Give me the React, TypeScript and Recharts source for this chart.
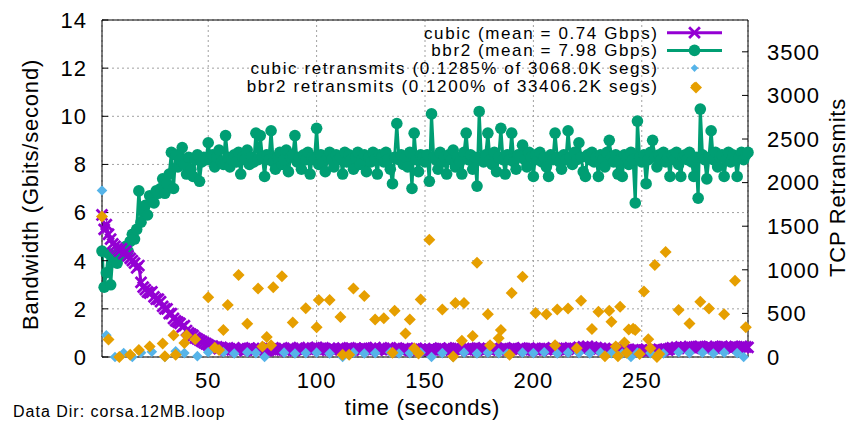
import { ComposedChart, Line, Scatter, XAxis, YAxis, CartesianGrid, ReferenceLine, Legend } from 'recharts';

const FONT = '"Liberation Sans", Arial, Helvetica, sans-serif';
const CUBIC_COLOR = '#9400d3';
const BBR2_COLOR = '#009e73';
const CUBIC_RT_COLOR = '#56b4e9';
const BBR2_RT_COLOR = '#e69f00';

// one sample per second, first sample at t = 1
const cubicGbps = [
  5.9, 5.3, 5.5, 5.1, 4.9, 4.7, 4.6, 4.5, 4.4, 4.5,
  4.3, 4.4, 4.2, 4.1, 4.0, 3.9, 3.7, 3.8, 3.1, 2.9,
  2.8, 2.7, 2.65, 2.7, 2.5, 2.4, 2.4, 2.3, 2.1, 2.0,
  2.0, 1.8, 1.8, 1.6, 1.5, 1.45, 1.4, 1.25, 1.3, 1.1,
  1.0, 0.95, 0.9, 0.8, 0.75, 0.7, 0.65, 0.6, 0.55, 0.5,
  0.45, 0.45, 0.4, 0.42, 0.35, 0.4, 0.35, 0.3, 0.38, 0.32,
  0.3, 0.36, 0.28, 0.34, 0.3, 0.38, 0.27, 0.33, 0.36, 0.29,
  0.34, 0.3, 0.37, 0.28, 0.35, 0.31, 0.26, 0.36, 0.32, 0.3,
  0.35, 0.29, 0.33, 0.38, 0.3, 0.27, 0.35, 0.32, 0.36, 0.3,
  0.34, 0.39, 0.31, 0.28, 0.36, 0.33, 0.3, 0.37, 0.32, 0.4,
  0.35, 0.3, 0.38, 0.33, 0.29, 0.36, 0.31, 0.34, 0.28, 0.35,
  0.32, 0.37, 0.3, 0.34, 0.38, 0.29, 0.33, 0.36, 0.31, 0.35,
  0.3, 0.37, 0.33, 0.28, 0.36, 0.32, 0.39, 0.3, 0.34, 0.31,
  0.36, 0.29, 0.35, 0.38, 0.32, 0.3, 0.37, 0.33, 0.28, 0.35,
  0.31, 0.34, 0.3, 0.27, 0.33, 0.36, 0.29, 0.32, 0.26, 0.3,
  0.28, 0.33, 0.3, 0.35, 0.29, 0.32, 0.37, 0.3, 0.34, 0.31,
  0.36, 0.3, 0.33, 0.38, 0.31, 0.35, 0.29, 0.34, 0.32, 0.37,
  0.3, 0.35, 0.33, 0.29, 0.36, 0.32, 0.38, 0.31, 0.34, 0.3,
  0.35, 0.32, 0.37, 0.3, 0.34, 0.29, 0.36, 0.33, 0.31, 0.35,
  0.38, 0.3, 0.34, 0.32, 0.36, 0.29, 0.33, 0.37, 0.31, 0.35,
  0.3, 0.34, 0.28, 0.33, 0.36, 0.31, 0.35, 0.3, 0.38, 0.32,
  0.36, 0.33, 0.3, 0.35, 0.29, 0.34, 0.38, 0.31, 0.36, 0.33,
  0.4, 0.35, 0.42, 0.38, 0.44, 0.37, 0.41, 0.35, 0.39, 0.33,
  0.36, 0.3, 0.34, 0.28, 0.33, 0.3, 0.35, 0.29, 0.32, 0.27,
  0.3, 0.26, 0.31, 0.28, 0.25, 0.3, 0.27, 0.32, 0.26, 0.29,
  0.27, 0.31, 0.25, 0.29, 0.26, 0.3, 0.28, 0.32, 0.27, 0.3,
  0.33, 0.29, 0.35, 0.38, 0.34, 0.4, 0.36, 0.42, 0.38, 0.41,
  0.37, 0.43, 0.39, 0.36, 0.42, 0.38, 0.44, 0.4, 0.37, 0.43,
  0.39, 0.41, 0.36, 0.43, 0.38, 0.4, 0.44, 0.37, 0.42, 0.39,
  0.41, 0.37, 0.43, 0.4, 0.38, 0.44, 0.39, 0.42, 0.4,
];

const bbr2Gbps = [
  4.4, 2.9, 3.5, 4.3, 3.0, 4.2, 4.0, 3.9, 4.4, 4.2,
  4.5, 4.6, 4.4, 4.8, 5.1, 4.9, 5.3, 6.9, 5.6, 6.1,
  6.3, 5.9, 6.7, 6.6, 6.4, 6.9, 6.8, 7.0, 7.4, 6.8,
  7.2, 7.6, 8.5, 7.0, 8.4, 7.9, 8.2, 8.7, 8.0, 7.6,
  8.3, 7.8, 7.5, 8.2, 8.4, 7.3, 8.1, 8.3, 8.2, 8.9,
  8.2, 8.4, 7.9, 8.3, 8.6, 8.1, 8.0, 9.2, 8.3, 7.9,
  8.2, 8.4, 8.1, 8.5, 7.6, 8.3, 8.2, 8.6, 8.0, 8.3,
  8.1, 9.3, 8.2, 9.2, 8.3, 7.5, 8.4, 8.2, 9.4, 8.1,
  7.8, 8.3, 8.5, 8.0, 8.2, 8.6, 7.7, 8.3, 8.4, 9.2,
  8.1, 8.3, 7.8, 8.4, 8.2, 8.5, 7.6, 8.3, 8.2, 9.5,
  8.0, 8.4, 8.1, 7.7, 8.3, 8.5, 8.2, 7.9, 8.4, 8.2,
  8.3, 7.6, 8.5, 8.1, 8.4, 8.2, 7.8, 8.3, 8.5, 8.0,
  8.2, 8.4, 7.7, 8.3, 8.1, 8.5, 8.2, 7.6, 8.4, 8.3,
  8.1, 8.5, 8.2, 7.8, 7.2, 8.3, 9.7, 8.2, 8.4, 8.0,
  8.3, 7.9, 8.5, 7.0, 9.3, 8.2, 7.7, 8.4, 8.3, 8.1,
  8.4, 7.3, 10.1, 8.3, 8.2, 7.8, 8.5, 8.1, 8.3, 7.6,
  8.4, 8.2, 8.6, 7.9, 8.3, 8.1, 7.6, 8.5, 9.3, 8.2,
  8.4, 7.8, 8.3, 7.1, 10.2, 8.3, 8.1, 8.4, 9.3, 8.2,
  8.0, 8.5, 7.7, 8.3, 9.5, 8.2, 7.6, 8.4, 8.2, 9.3,
  8.1, 7.8, 8.4, 8.3, 8.8, 8.2, 7.9, 8.5, 8.3, 7.5,
  8.4, 8.2, 8.5, 8.1, 8.3, 7.9, 7.5, 8.4, 8.2, 9.3,
  8.3, 8.1, 7.8, 8.4, 8.2, 9.4, 8.3, 8.0, 8.5, 8.2,
  8.9, 8.3, 7.7, 7.5, 8.4, 8.2, 8.5, 8.1, 8.3, 7.5,
  8.4, 8.2, 7.9, 8.5, 9.0, 8.3, 8.1, 8.4, 7.6, 8.2,
  7.5, 8.4, 8.3, 8.0, 8.5, 8.2, 6.4, 9.8, 8.3, 8.1,
  8.4, 7.2, 8.2, 8.5, 9.0, 8.3, 7.9, 8.4, 8.2, 8.5,
  8.1, 8.3, 7.5, 8.4, 8.2, 8.5, 8.0, 7.5, 8.3, 8.4,
  8.2, 8.5, 8.1, 7.5, 8.3, 6.6, 10.3, 8.4, 8.2, 7.4,
  8.3, 9.4, 8.2, 8.5, 7.9, 8.3, 8.4, 7.5, 8.2, 8.5,
  8.1, 8.4, 8.2, 7.5, 8.3, 8.5, 8.2, 8.4, 8.5,
];

// retransmit samples (second, segments)
const cubicRetransSec = [
  1, 3, 7, 11, 15, 19, 24, 30, 35, 39, 45, 50, 57, 62, 68, 72, 76, 85, 90, 95,
  100, 106, 112, 117, 122, 127, 134, 138, 143, 148, 153, 158, 163, 168, 174, 179, 184, 188, 195, 200,
  205, 211, 216, 221, 226, 231, 236, 241, 245, 248, 254, 260, 267, 272, 278, 283, 288, 294, 297,
];
const cubicRetransSegs = [
  1910, 250, 0, 45, 0, 50, 60, 0, 65, 45, 10, 55, 55, 40, 55, 45, 0, 50, 40, 45,
  50, 40, 0, 50, 40, 45, 55, 40, 45, 50, 0, 45, 0, 50, 40, 50, 45, 40, 50, 45,
  55, 40, 50, 45, 40, 50, 45, 40, 0, 50, 45, 40, 55, 45, 50, 40, 50, 45, 0,
];

const bbr2RetransSec = [
  1, 4, 9, 14, 18, 23, 29, 30, 34, 35, 39, 40, 44, 50, 53, 55, 57, 59, 64, 68,
  73, 75, 77, 79, 80, 84, 89, 95, 100, 101, 106, 111, 112, 115, 117, 122, 127, 131, 135, 136,
  141, 143, 145, 147, 148, 152, 158, 163, 164, 167, 168, 172, 174, 179, 180, 184, 185, 189, 190, 195,
  201, 206, 210, 211, 216, 220, 222, 227, 230, 233, 235, 236, 238, 239, 240, 242, 243, 244, 246, 247,
  249, 251, 253, 254, 256, 257, 258, 261, 267, 272, 275, 277, 281, 288, 293, 298,
];
const bbr2RetransSegs = [
  1610, 200, 0, 25, 80, 120, 155, 10, 250, 25, 160, 250, 205, 685, 105, 80, 310, 595, 940, 380,
  785, 120, 230, 135, 800, 925, 395, 560, 340, 655, 655, 460, 25, 25, 785, 700, 430, 445, 50, 530,
  270, 430, 100, 40, 660, 1345, 545, 5, 620, 185, 620, 240, 1080, 490, 135, 215, 310, 25, 735, 920,
  505, 490, 135, 545, 555, 100, 645, 320, 520, 10, 530, 405, 120, 10, 575, 165, 50, 315, 325, 310,
  35, 750, 205, 100, 1055, 0, 35, 1205, 540, 385, 3090, 635, 555, 490, 875, 340,
];

const timeTicks = [50, 100, 150, 200, 250];
const gbpsTicks = [0, 2, 4, 6, 8, 10, 12, 14];
const retransTicks = [0, 500, 1000, 1500, 2000, 2500, 3000, 3500];

const keyRows = [
  { text: 'cubic (mean = 0.74 Gbps)', color: CUBIC_COLOR, mark: 'cross' },
  { text: 'bbr2 (mean = 7.98 Gbps)', color: BBR2_COLOR, mark: 'circle' },
  { text: 'cubic retransmits (0.1285% of 3068.0K segs)', color: CUBIC_RT_COLOR, mark: 'diamond' },
  { text: 'bbr2 retransmits (0.1200% of 33406.2K segs)', color: BBR2_RT_COLOR, mark: 'diamond' },
];

const throughput = cubicGbps.map((c, i) => ({ t: i + 1, cubic: c, bbr2: bbr2Gbps[i] }));
const cubicRetrans = cubicRetransSec.map((t, i) => ({ t, v: cubicRetransSegs[i] }));
const bbr2Retrans = bbr2RetransSec.map((t, i) => ({ t, v: bbr2RetransSegs[i] }));

const tickStyle = { fontSize: 22, fill: '#000', fontFamily: FONT, letterSpacing: 1 };
const blackLine = { stroke: '#000' };

function crossPath(cx: number, cy: number, s: number) {
  return `M${cx - s},${cy - s}L${cx + s},${cy + s}M${cx - s},${cy + s}L${cx + s},${cy - s}`;
}

function diamondPath(cx: number, cy: number, s: number) {
  return `M${cx},${cy - s}L${cx + s},${cy}L${cx},${cy + s}L${cx - s},${cy}Z`;
}

function Mark({ kind, cx, cy, color, size }: any) {
  if (cx == null || cy == null) return null;
  if (kind === 'cross')
    return <path d={crossPath(cx, cy, size ?? 5.4)} stroke={color} strokeWidth={2.8} fill="none" />;
  if (kind === 'circle') return <circle cx={cx} cy={cy} r={size ?? 5.8} fill={color} />;
  return <path d={diamondPath(cx, cy, size ?? 5)} fill={color} />;
}

function KeyBox() {
  return (
    <svg width={844} height={100} style={{ display: 'block' }}>
      {keyRows.map((row, i) => {
        const y = 24.7 + i * 17.7;
        return (
          <g key={row.text}>
            <text x={650.5} y={y} dy="0.35em" textAnchor="end" fontSize={17} letterSpacing={1.6}
              fontFamily={FONT} fill="#000">{row.text}</text>
            {row.mark !== 'diamond' && (
              <line x1={659} x2={714} y1={y} y2={y} stroke={row.color} strokeWidth={3} />
            )}
            <Mark kind={row.mark} cx={686.5} cy={y} color={row.color}
              size={row.mark === 'diamond' ? 3.8 : undefined} />
          </g>
        );
      })}
    </svg>
  );
}

function AxisTitle({ tx, ty, text, turn }: any) {
  return (
    <text x={tx} y={ty} textAnchor="middle" fontSize={22} letterSpacing={0.8} fontFamily={FONT}
      fill="#000" transform={turn ? `rotate(-90 ${tx} ${ty})` : undefined}>
      {text}
    </text>
  );
}

export default function App() {
  return (
    <div style={{ position: 'relative', width: 844, height: 412 }}>
      <ComposedChart width={844} height={412} data={throughput}
        margin={{ top: 12, right: 14, left: 34, bottom: 23 }}>
        <CartesianGrid yAxisId="left" stroke="#a0a0a0" strokeDasharray="2 3" />
        <XAxis dataKey="t" type="number" domain={[1, 299]} ticks={timeTicks} interval={0}
          height={40} tickSize={-6} tickMargin={21} tick={tickStyle}
          axisLine={blackLine} tickLine={blackLine}
          label={<AxisTitle tx={414.5} ty={407} text="time (seconds)" />} />
        {/* mirrored ticks on the top border */}
        <XAxis xAxisId="top" orientation="top" dataKey="t" type="number" domain={[1, 299]} ticks={timeTicks}
          interval={0} height={0} tickSize={-6} tick={false} axisLine={blackLine} tickLine={blackLine} />
        <YAxis yAxisId="left" domain={[0, 14]} ticks={gbpsTicks} interval={0}
          width={60} tickSize={-6} tickMargin={21} tick={tickStyle}
          axisLine={blackLine} tickLine={blackLine}
          label={<AxisTitle tx={30} ty={186.5} text="Bandwidth (Gbits/second)" turn />} />
        <YAxis yAxisId="right" orientation="right" domain={[0, 3865]} ticks={retransTicks}
          interval={0} width={90} tickSize={-6} tickMargin={25} tick={tickStyle}
          axisLine={blackLine} tickLine={blackLine}
          label={<AxisTitle tx={837} ty={179.5} text="TCP Retransmits" turn />} />
        <ReferenceLine yAxisId="left" y={14} stroke="#000" />
        <Line yAxisId="left" type="linear" dataKey="bbr2" stroke={BBR2_COLOR} strokeWidth={3}
          dot={(p: any) => <Mark key={`b${p.index}`} kind="circle" cx={p.cx} cy={p.cy} color={BBR2_COLOR} />}
          activeDot={false} isAnimationActive={false} />
        <Line yAxisId="left" type="linear" dataKey="cubic" stroke={CUBIC_COLOR} strokeWidth={3}
          dot={(p: any) => <Mark key={`c${p.index}`} kind="cross" cx={p.cx} cy={p.cy} color={CUBIC_COLOR} />}
          activeDot={false} isAnimationActive={false} />
        <Scatter yAxisId="right" data={cubicRetrans} dataKey="v" fill={CUBIC_RT_COLOR} zIndex={1600}
          shape={(p: any) => <Mark kind="diamond" cx={p.cx} cy={p.cy} color={CUBIC_RT_COLOR} size={5.3} />}
          isAnimationActive={false} />
        <Scatter yAxisId="right" data={bbr2Retrans} dataKey="v" fill={BBR2_RT_COLOR} zIndex={1700}
          shape={(p: any) => <Mark kind="diamond" cx={p.cx} cy={p.cy} color={BBR2_RT_COLOR} size={6} />}
          isAnimationActive={false} />
        <Legend layout="vertical" align="center" verticalAlign="middle" content={() => <KeyBox />}
          wrapperStyle={{ top: 0, left: 0, width: 844, height: 100, lineHeight: 0 }} />
      </ComposedChart>
      <div style={{ position: 'absolute', left: 5, top: 395, fontFamily: FONT, fontSize: 16,
        letterSpacing: 1, lineHeight: '18px', color: '#000', whiteSpace: 'nowrap' }}>
        Data Dir: corsa.12MB.loop
      </div>
    </div>
  );
}
